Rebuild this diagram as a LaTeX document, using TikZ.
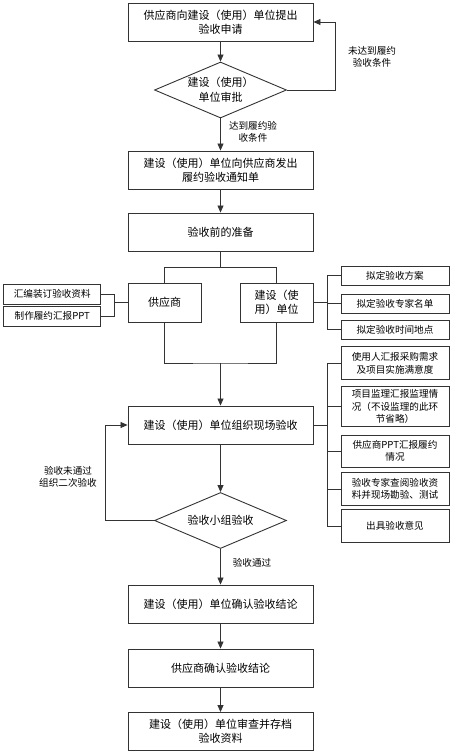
\documentclass[tikz,border=0pt]{standalone}
\usepackage{fontspec}
\setmainfont{Noto Sans CJK SC}
\usetikzlibrary{arrows.meta,shapes.geometric}
\definecolor{linecolor}{rgb}{0.2,0.2,0.2}

\tikzset{
  stepbox/.style={draw=linecolor, line width=0.9pt, align=center, inner sep=1pt,
    minimum width=185pt, minimum height=38pt, font=\fontsize{11}{14}\selectfont},
  sidebox/.style={draw=linecolor, line width=0.9pt, align=center, inner sep=1pt,
    minimum width=108pt, font=\fontsize{9.6}{12.5}\selectfont},
  choice/.style={draw=linecolor, line width=0.9pt, shape=diamond, align=center,
    inner sep=0pt, shape aspect=2.44, minimum width=132pt, minimum height=56pt,
    font=\fontsize{11}{15}\selectfont},
  lbl/.style={align=center, font=\fontsize{9.6}{12.5}\selectfont},
  flow/.style={draw=linecolor, line width=0.8pt, -{Triangle[length=7pt,width=6pt]}},
  link/.style={draw=linecolor, line width=0.8pt}
}

\begin{document}
\begin{tikzpicture}[x=1pt, y=-1pt]
  \useasboundingbox (0,0) rectangle (452,753);
  \def\mx{220.5}  % main column
  % main steps
  \node[stepbox] (apply) at (\mx,22) {供应商向建设（使用）单位提出\\验收申请};
  \node[choice] (check) at (\mx,90) {建设（使用）\\单位审批};
  \node[stepbox] (notice) at (\mx,170) {建设（使用）单位向供应商发出\\履约验收通知单};
  \node[stepbox] (prep) at (\mx,232) {验收前的准备};
  \node[stepbox, minimum width=73pt, minimum height=39pt] (supp) at (164.5,302.5) {供应商};
  \node[stepbox, minimum width=73pt, minimum height=39pt] (unit) at (276.5,302.5) {建设（使\\用）单位};
  \node[stepbox] (site) at (\mx,425) {建设（使用）单位组织现场验收};
  \node[choice] (group) at (\mx,520.5) {验收小组验收};
  \node[stepbox] (confirm) at (\mx,604) {建设（使用）单位确认验收结论};
  \node[stepbox] (suppok) at (\mx,668) {供应商确认验收结论};
  \node[stepbox] (archive) at (\mx,731.5) {建设（使用）单位审查并存档\\验收资料};

  % supplier tasks
  \node[sidebox, minimum width=97pt, minimum height=20pt] (sa) at (52.3,294) {汇编装订验收资料};
  \node[sidebox, minimum width=97pt, minimum height=20pt] (sb) at (52.3,316.3) {制作履约汇报PPT};
  % unit tasks
  \node[sidebox, minimum height=19.5pt] (ua) at (395,275.7) {拟定验收方案};
  \node[sidebox, minimum height=19.5pt] (ub) at (395,303.7) {拟定验收专家名单};
  \node[sidebox, minimum height=19.5pt] (uc) at (395,329.7) {拟定验收时间地点};
  % site tasks
  \node[sidebox, minimum height=33pt] (ta) at (395,363.3) {使用人汇报采购需求\\及项目实施满意度};
  \node[sidebox, minimum height=40pt] (tb) at (395,406.7) {项目监理汇报监理情\\况（不设监理的此环\\节省略）};
  \node[sidebox, minimum height=32pt] (tc) at (395,451) {供应商PPT汇报履约\\情况};
  \node[sidebox, minimum height=33pt] (td) at (395,489) {验收专家查阅验收资\\料并现场勘验、测试};
  \node[sidebox, minimum height=32.7pt] (te) at (395,526) {出具验收意见};

  % junctions
  \coordinate (split) at (\mx,267.3);
  \coordinate (merge) at (\mx,363);
  \coordinate (sjoin) at (114.3,302.5);
  \coordinate (ujoin) at (327,302.5);
  \coordinate (tjoin) at (327,425);
  \coordinate (back1) at (335,90);
  \coordinate (back2) at (105.3,520.5);

  % connectors
  \draw[flow] (apply) -- (check);
  \draw[flow] (check.east) -- (back1) |- (apply.east);
  \draw[flow] (check) -- (notice);
  \draw[flow] (notice) -- (prep);
  \draw[link] (prep) -- (split);
  \draw[link] (supp.north) |- (split) -| (unit.north);
  \draw[link] (supp.south) |- (merge) -| (unit.south);
  \draw[flow] (merge) -- (site);
  \draw[link] (supp.west) -- (sjoin);
  \foreach \b in {sa,sb} { \draw[link] (\b.east) -| (sjoin); }
  \draw[link] (unit.east) -- (ujoin);
  \foreach \b in {ua,ub,uc} { \draw[link] (ujoin) |- (\b.west); }
  \draw[link] (site.east) -- (tjoin);
  \foreach \b in {ta,tb,tc,td,te} { \draw[link] (tjoin) |- (\b.west); }
  \draw[flow] (site) -- (group);
  \draw[flow] (group.west) -- (back2) |- (site.west);
  \draw[flow] (group) -- (confirm);
  \draw[flow] (confirm) -- (suppok);
  \draw[flow] (suppok) -- (archive);

  % labels
  \node[lbl] (nogo) at (372,57) {未达到履约\\验收条件};
  \node[lbl] (go) at (253,132) {达到履约验\\收条件};
  \node[lbl] (redo) at (68,476.7) {验收未通过\\组织二次验收};
  \node[lbl] (pass) at (252,562.7) {验收通过};
\end{tikzpicture}
\end{document}
